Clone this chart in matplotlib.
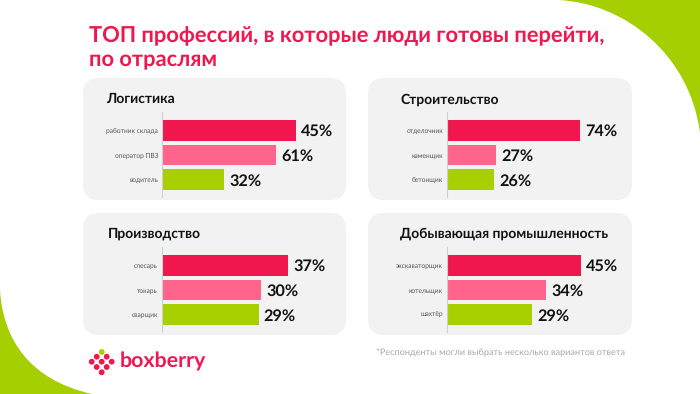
#!/usr/bin/env python3

import matplotlib
matplotlib.use("Agg")
import matplotlib.pyplot as plt
from matplotlib.patches import FancyBboxPatch, PathPatch, Circle
from matplotlib.path import Path

plt.rcParams['font.family'] = ['Lato', 'DejaVu Sans']
plt.rcParams['text.hinting'] = 'no_hinting'

title = "ТОП профессий, в которые люди готовы перейти,\nпо отраслям"
footnote = "*Респонденты могли выбрать несколько вариантов ответа"

panel_names = ["Логистика", "Строительство", "Производство", "Добывающая промышленность"]

logistics_jobs = ["работник склада", "оператор ПВЗ", "водитель"]
building_jobs = ["отделочник", "каменщик", "бетонщик"]
factory_jobs = ["слесарь", "токарь", "сварщик"]
mining_jobs = ["экскаваторщик", "котельщик", "шахтёр"]

# printed numbers
logistics_labels = [45, 61, 32]
building_labels = [74, 27, 26]
factory_labels = [37, 30, 29]
mining_labels = [45, 34, 29]

# bar lengths as drawn, they do not always agree with the printed numbers
logistics_bars = [45, 38.5, 21]
building_bars = [74, 27.6, 26.5]
factory_bars = [37, 29, 28.3]
mining_bars = [45, 33.5, 28.8]

RED = "#F0174F"
PINK = "#FF648C"
GREEN = "#A8D000"
W, H = 700, 394


def px_axes(fig, x0, y0, x1, y1):
    # axes from pixel box, y counted from the top
    return fig.add_axes([x0 / W, 1 - y1 / H, (x1 - x0) / W, (y1 - y0) / H])


def draw_panel(fig, bg, box, name, name_x, name_y, jobs, bars, labels, px_per_unit):
    x0, y0, x1, y1 = box
    bg.add_patch(FancyBboxPatch((x0 + 16, y0 + 16), x1 - x0 - 32, y1 - y0 - 32,
                                boxstyle="round,pad=16,rounding_size=16",
                                fc="#F2F2F2", ec="none"))
    bg.text(name_x, name_y, name, fontsize=10, fontweight="bold", color="#111111",
            ha="left", va="baseline")

    axis_x = x0 + 78.5
    ax = px_axes(fig, axis_x, y0 + 34, axis_x + 175, y0 + 119)
    ax.patch.set_alpha(0)
    ax.barh(range(3), bars, height=0.84, color=[RED, PINK, GREEN],
            edgecolor="none")
    ax.set_xlim(0, 175 / px_per_unit)
    ax.set_ylim(2.7, -0.74)
    ax.set_yticks(range(3))
    ax.set_yticklabels(jobs, fontsize=4.8, color="#555555")
    ax.tick_params(axis="y", length=0, pad=2.5)
    ax.set_xticks([])
    for s in ["top", "right", "bottom"]:
        ax.spines[s].set_visible(False)
    ax.spines["left"].set_color("#CFCFCF")
    ax.spines["left"].set_linewidth(0.8)
    for i, (b, v) in enumerate(zip(bars, labels)):
        ax.annotate(f"{v}%", (b, i), xytext=(3.6, -1), textcoords="offset points",
                    fontsize=11.7, fontweight="bold", color="#111111",
                    ha="left", va="center")


def main():
    fig = plt.figure(figsize=(W / 100, H / 100), dpi=100, facecolor="white")
    bg = fig.add_axes([0, 0, 1, 1])
    bg.set_xlim(0, W)
    bg.set_ylim(H, 0)
    bg.axis("off")

    # green corners
    top = Path([(558, 0), (625, 3), (690, 55), (700, 133), (700, 0), (558, 0)],
               [Path.MOVETO, Path.CURVE4, Path.CURVE4, Path.CURVE4, Path.LINETO, Path.CLOSEPOLY])
    bottom = Path([(0, 290), (3, 340), (30, 380), (92, 394), (0, 394), (0, 290)],
                  [Path.MOVETO, Path.CURVE4, Path.CURVE4, Path.CURVE4, Path.LINETO, Path.CLOSEPOLY])
    bg.add_patch(PathPatch(top, fc="#A5CF00", ec="none"))
    bg.add_patch(PathPatch(bottom, fc="#A5CF00", ec="none"))

    bg.text(89, 41, title.split("\n")[0], fontsize=15.75, fontweight="bold", color=RED, va="baseline")
    bg.text(89, 66, title.split("\n")[1], fontsize=15.75, fontweight="bold", color=RED, va="baseline")

    draw_panel(fig, bg, (83, 78, 346, 200), panel_names[0], 106, 103,
               logistics_jobs, logistics_bars, logistics_labels, 2.98)
    draw_panel(fig, bg, (368, 78, 632, 200), panel_names[1], 400.5, 104,
               building_jobs, building_bars, building_labels, 1.81)
    draw_panel(fig, bg, (83, 213, 346, 335), panel_names[2], 108, 238,
               factory_jobs, factory_bars, factory_labels, 3.43)
    draw_panel(fig, bg, (368, 213, 632, 335), panel_names[3], 400, 238,
               mining_jobs, mining_bars, mining_labels, 2.98)

    bg.text(376.5, 355, footnote, fontsize=6.55, color="#A8A8A8", va="baseline")

    # logo
    bg.add_patch(Circle((101.7, 352), 2.9, fc=GREEN, ec="none"))
    for cx, cy in [(96.7, 356.7), (106.7, 356.7), (91.7, 361.7), (101.7, 361.7),
                   (111.7, 361.7), (96.7, 367), (106.7, 367), (101.7, 372.3)]:
        bg.add_patch(Circle((cx, cy), 2.9, fc=RED, ec="none"))
    bg.text(120, 367.7, "boxberry", fontsize=15.4, fontweight="bold", color=RED, va="baseline")

    fig.savefig("out.png", dpi=100)


if __name__ == "__main__":
    main()
